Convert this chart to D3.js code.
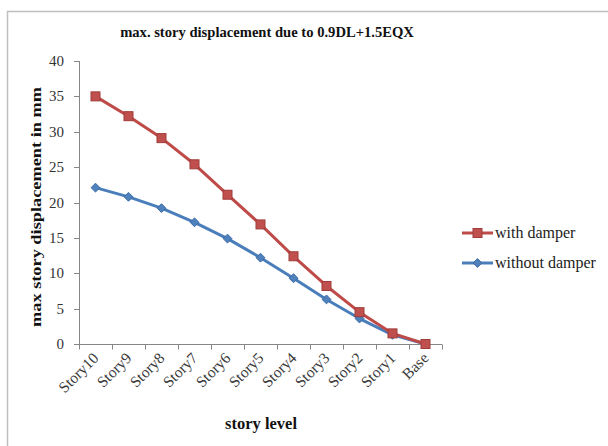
<!DOCTYPE html>
<html><head><meta charset="utf-8">
<script src="https://cdn.jsdelivr.net/npm/d3@7"></script>
<style>body{margin:0;background:#fff}svg{display:block}text{font-family:"Liberation Serif","Times New Roman",serif}</style>
</head><body>
<script>
const categories = ["Story10","Story9","Story8","Story7","Story6","Story5","Story4","Story3","Story2","Story1","Base"];
const withDamper = [35.0, 32.2, 29.1, 25.4, 21.1, 16.9, 12.4, 8.2, 4.5, 1.5, 0];
const withoutDamper = [22.1, 20.8, 19.2, 17.2, 14.9, 12.2, 9.3, 6.3, 3.6, 1.3, 0];
const yTicks = [0,5,10,15,20,25,30,35,40];
const seriesNames = ["with damper","without damper"];

const W=608,H=446;
const svg=d3.select("body").append("svg").attr("width",W).attr("height",H);
svg.append("rect").attr("width",W).attr("height",H).attr("fill","#fff");
svg.append("path").attr("d","M7.5,446V11.5H608").attr("fill","none").attr("stroke","#bfbfbf").attr("stroke-width",1.5);

const x=d3.scaleBand().domain(categories).range([79,442]).padding(0);
const y=d3.scaleLinear().domain([0,40]).range([344,61]);
const cx=d=>x(d)+x.bandwidth()/2;

// y axis
const ya=svg.append("g");
ya.append("line").attr("x1",79.5).attr("x2",79.5).attr("y1",y(40)).attr("y2",y(0)).attr("stroke","#868686");
yTicks.forEach(t=>{
  ya.append("line").attr("x1",74).attr("x2",79.5).attr("y1",Math.round(y(t))+0.5).attr("y2",Math.round(y(t))+0.5).attr("stroke","#868686");
  ya.append("text").attr("x",64).attr("y",y(t)+5).attr("text-anchor","end").attr("font-size",15).attr("fill","#333").text(t);
});
// x axis
const xa=svg.append("g");
xa.append("line").attr("x1",79).attr("x2",442).attr("y1",344.5).attr("y2",344.5).attr("stroke","#868686");
const bounds=categories.map(c=>x(c)).concat([x(categories[categories.length-1])+x.bandwidth()]);
bounds.forEach(b=>{
  xa.append("line").attr("x1",Math.round(b)+0.5).attr("x2",Math.round(b)+0.5).attr("y1",344.5).attr("y2",349.5).attr("stroke","#868686");
});
categories.forEach(c=>{
  xa.append("text").attr("transform",`translate(${cx(c)+4},${359}) rotate(-45)`)
    .attr("text-anchor","end").attr("font-size",15.5).attr("fill","#3a3a3a").text(c);
});

// lines
const line=d3.line().x((d,i)=>cx(categories[i])).y(d=>y(d));
const red="#BE4B48", blue="#4A7EBB";
svg.append("path").datum(withoutDamper).attr("d",line).attr("fill","none").attr("stroke",blue).attr("stroke-width",3).attr("stroke-linejoin","round");
svg.append("path").datum(withDamper).attr("d",line).attr("fill","none").attr("stroke",red).attr("stroke-width",3).attr("stroke-linejoin","round");
svg.append("g").selectAll("path").data(withoutDamper).join("path")
  .attr("transform",(d,i)=>`translate(${cx(categories[i])},${y(d)})`)
  .attr("d",d3.symbol(d3.symbolDiamond2,50)()).attr("fill","#4F81BD").attr("stroke","#3C6BA5").attr("stroke-width",1);
svg.append("g").selectAll("rect").data(withDamper).join("rect")
  .attr("x",(d,i)=>cx(categories[i])-4.5).attr("y",d=>y(d)-4.5).attr("width",9).attr("height",9)
  .attr("fill","#C0504D").attr("stroke","#A03C3A").attr("stroke-width",1);

// legend
const lg=svg.append("g");
[[233,red,"sq"],[263,blue,"di"]].forEach(([ly,col,m],i)=>{
  lg.append("line").attr("x1",462).attr("x2",493).attr("y1",ly).attr("y2",ly).attr("stroke",col).attr("stroke-width",3);
  if(m==="sq") lg.append("rect").attr("x",473).attr("y",ly-4.5).attr("width",9).attr("height",9).attr("fill","#C0504D").attr("stroke","#A03C3A");
  else lg.append("path").attr("transform",`translate(477.5,${ly})`).attr("d",d3.symbol(d3.symbolDiamond2,50)()).attr("fill","#4F81BD").attr("stroke","#3C6BA5");
  lg.append("text").attr("x",495).attr("y",ly+5).attr("font-size",16).attr("fill","#222").text(seriesNames[i]);
});

// titles
svg.append("text").attr("x",267).attr("y",37).attr("text-anchor","middle").attr("font-size",14.6).attr("font-weight","bold").attr("fill","#111").text("max. story displacement due to 0.9DL+1.5EQX");
svg.append("text").attr("transform","translate(41,207) rotate(-90)").attr("text-anchor","middle").attr("font-size",15).attr("font-weight","bold").attr("fill","#111")
  .attr("textLength",240).attr("lengthAdjust","spacingAndGlyphs").text("max story displacement in mm");
svg.append("text").attr("x",261).attr("y",429).attr("text-anchor","middle").attr("font-size",16.5).attr("font-weight","bold").attr("fill","#111").text("story level");
</script>
</body></html>
